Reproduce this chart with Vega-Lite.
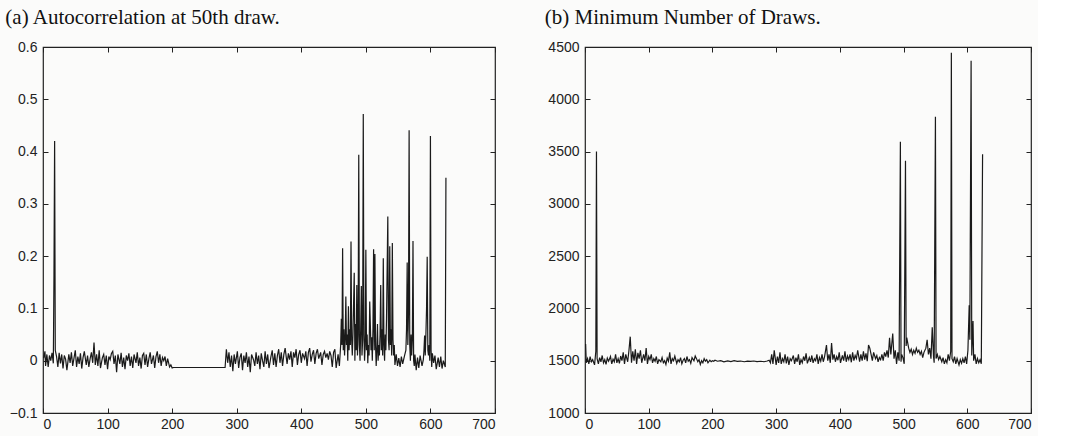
{
"$schema": "https://vega.github.io/schema/vega-lite/v6.json",
"background": "#fbfbfa",
"padding": {"left": 4, "top": 6, "right": 5, "bottom": 4},
"spacing": 47,
"config": {
  "view": {"stroke": "#222", "strokeWidth": 1.2},
  "axis": {"labelFont": "Liberation Sans", "labelFontSize": 14, "labelColor": "#222", "domain": false, "grid": false, "tickColor": "#222", "tickSize": -5, "tickWidth": 1, "labelPadding": 11},
  "axisX": {"labelPadding": 9},
  "title": {"font": "Liberation Serif", "fontSize": 21, "fontWeight": "normal", "anchor": "start", "color": "#111", "offset": 12}
},
"datasets": {
"a": [
{"x":1,"y":0.005},{"x":3,"y":0.018},{"x":4,"y":-0.01},{"x":6,"y":0.012},{"x":8,"y":-0.012},{"x":10,"y":0.01},{"x":12,"y":0.0},{"x":14,"y":0.015},{"x":16,"y":-0.005},{"x":17,"y":0.165},{"x":18,"y":0.42},{"x":19,"y":0.02},
{"x":21,"y":0.008},{"x":23,"y":-0.012},{"x":25,"y":0.015},{"x":27,"y":-0.005},{"x":29,"y":0.012},{"x":31,"y":-0.015},{"x":33,"y":0.01},{"x":35,"y":0.003},{"x":37,"y":-0.018},{"x":40,"y":0.012},{"x":42,"y":-0.004},{"x":44,"y":0.016},{"x":46,"y":-0.01},{"x":48,"y":0.005},{"x":50,"y":0.02},{"x":52,"y":-0.012},{"x":54,"y":0.008},{"x":56,"y":-0.006},{"x":58,"y":0.014},{"x":60,"y":-0.015},{"x":62,"y":0.006},{"x":64,"y":0.018},{"x":67,"y":-0.008},{"x":69,"y":0.01},{"x":71,"y":-0.012},{"x":73,"y":0.004},{"x":75,"y":0.016},{"x":77,"y":-0.004},{"x":79,"y":0.035},{"x":81,"y":-0.008},{"x":83,"y":0.012},{"x":85,"y":-0.01},{"x":87,"y":0.02},{"x":89,"y":-0.014},{"x":92,"y":0.006},{"x":94,"y":0.012},{"x":96,"y":-0.008},{"x":98,"y":0.01},{"x":100,"y":-0.016},{"x":102,"y":0.008},{"x":104,"y":0.002},{"x":106,"y":0.014},{"x":108,"y":0.018},{"x":110,"y":-0.006},{"x":112,"y":0.01},{"x":114,"y":-0.022},{"x":116,"y":0.012},{"x":119,"y":-0.006},{"x":121,"y":0.015},{"x":123,"y":-0.012},{"x":125,"y":0.006},{"x":127,"y":-0.016},{"x":129,"y":0.01},{"x":131,"y":0.0},{"x":133,"y":0.014},{"x":135,"y":-0.01},{"x":137,"y":0.008},{"x":139,"y":-0.014},{"x":141,"y":0.012},{"x":144,"y":-0.004},{"x":146,"y":0.016},{"x":148,"y":-0.01},{"x":150,"y":0.006},{"x":152,"y":-0.015},{"x":154,"y":0.01},{"x":156,"y":0.014},{"x":158,"y":-0.008},{"x":160,"y":0.012},{"x":162,"y":-0.012},{"x":164,"y":0.004},{"x":166,"y":0.016},{"x":168,"y":-0.006},{"x":171,"y":0.01},{"x":173,"y":-0.014},{"x":175,"y":0.008},{"x":177,"y":0.018},{"x":179,"y":-0.004},{"x":181,"y":0.012},{"x":183,"y":-0.01},{"x":185,"y":0.006},{"x":187,"y":0.0},{"x":189,"y":0.008},{"x":191,"y":-0.01},{"x":193,"y":0.004},{"x":196,"y":-0.012},{"x":198,"y":-0.008},{"x":200,"y":-0.014},{"x":202,"y":-0.013},
{"x":229,"y":-0.013},{"x":260,"y":-0.013},{"x":282,"y":-0.013},
{"x":284,"y":0.022},{"x":286,"y":-0.004},{"x":288,"y":0.016},{"x":290,"y":-0.012},{"x":292,"y":0.01},{"x":294,"y":-0.02},{"x":296,"y":0.012},{"x":298,"y":-0.006},{"x":301,"y":0.018},{"x":303,"y":-0.014},{"x":305,"y":0.006},{"x":307,"y":0.014},{"x":309,"y":-0.018},{"x":311,"y":0.01},{"x":313,"y":-0.004},{"x":315,"y":0.016},{"x":317,"y":-0.012},{"x":319,"y":0.008},{"x":321,"y":-0.022},{"x":323,"y":0.012},{"x":326,"y":0.002},{"x":328,"y":-0.01},{"x":330,"y":0.016},{"x":332,"y":-0.006},{"x":334,"y":0.01},{"x":336,"y":-0.016},{"x":338,"y":0.014},{"x":340,"y":0.0},{"x":342,"y":-0.012},{"x":344,"y":0.018},{"x":346,"y":-0.006},{"x":348,"y":0.012},{"x":350,"y":-0.014},{"x":353,"y":0.008},{"x":355,"y":0.02},{"x":357,"y":-0.008},{"x":359,"y":0.014},{"x":361,"y":-0.012},{"x":363,"y":0.01},{"x":365,"y":0.022},{"x":367,"y":-0.004},{"x":369,"y":0.016},{"x":371,"y":-0.01},{"x":373,"y":0.012},{"x":375,"y":0.024},{"x":378,"y":-0.006},{"x":380,"y":0.014},{"x":382,"y":0.002},{"x":384,"y":0.018},{"x":386,"y":-0.012},{"x":388,"y":0.016},{"x":390,"y":0.006},{"x":392,"y":0.022},{"x":394,"y":-0.008},{"x":396,"y":0.012},{"x":398,"y":0.02},{"x":400,"y":-0.004},{"x":402,"y":0.014},{"x":405,"y":0.004},{"x":407,"y":0.018},{"x":409,"y":-0.01},{"x":411,"y":0.016},{"x":413,"y":0.024},{"x":415,"y":-0.002},{"x":417,"y":0.012},{"x":419,"y":0.02},{"x":421,"y":-0.006},{"x":423,"y":0.014},{"x":425,"y":0.022},{"x":427,"y":0.004},{"x":430,"y":0.016},{"x":432,"y":-0.008},{"x":434,"y":0.012},{"x":436,"y":0.018},{"x":438,"y":0.006},{"x":440,"y":0.014},{"x":442,"y":0.002},{"x":444,"y":0.018},{"x":446,"y":0.01},{"x":448,"y":-0.012},{"x":450,"y":0.016},{"x":452,"y":0.022},{"x":454,"y":-0.014},{"x":457,"y":0.012},{"x":459,"y":-0.01},
{"x":461,"y":0.03},{"x":462,"y":0.08},{"x":463,"y":0.03},{"x":464,"y":0.215},{"x":465,"y":0.02},{"x":466,"y":0.06},{"x":467,"y":0.01},{"x":468,"y":0.04},{"x":469,"y":0.123},{"x":470,"y":0.03},{"x":471,"y":0.05},{"x":472,"y":0.0},{"x":473,"y":0.104},{"x":474,"y":0.02},{"x":475,"y":0.06},{"x":476,"y":0.03},{"x":477,"y":0.228},{"x":478,"y":0.04},{"x":479,"y":0.01},{"x":480,"y":0.05},{"x":482,"y":0.168},{"x":483,"y":0.0},{"x":484,"y":0.07},{"x":485,"y":0.02},{"x":486,"y":0.145},{"x":487,"y":0.01},{"x":488,"y":0.05},{"x":489,"y":0.394},{"x":490,"y":0.03},{"x":491,"y":0.0},{"x":492,"y":0.06},{"x":493,"y":0.143},{"x":494,"y":0.01},{"x":495,"y":0.04},{"x":496,"y":0.472},{"x":497,"y":0.05},{"x":498,"y":0.0},{"x":499,"y":0.03},{"x":500,"y":0.212},{"x":501,"y":0.02},{"x":502,"y":0.05},{"x":503,"y":-0.005},{"x":504,"y":0.03},{"x":505,"y":0.01},{"x":506,"y":0.113},{"x":508,"y":0.02},{"x":509,"y":0.045},{"x":510,"y":0.0},{"x":511,"y":0.06},{"x":512,"y":0.213},{"x":513,"y":0.02},{"x":514,"y":0.204},{"x":515,"y":0.03},{"x":516,"y":-0.01},{"x":517,"y":0.02},{"x":518,"y":0.07},{"x":519,"y":0.0},{"x":520,"y":0.03},{"x":521,"y":0.01},{"x":522,"y":0.05},{"x":523,"y":0.145},{"x":524,"y":0.02},{"x":525,"y":0.06},{"x":526,"y":0.01},{"x":527,"y":0.196},{"x":528,"y":0.03},{"x":529,"y":0.0},{"x":530,"y":0.05},{"x":531,"y":0.02},{"x":532,"y":0.08},{"x":534,"y":0.276},{"x":535,"y":0.04},{"x":536,"y":0.02},{"x":537,"y":0.219},{"x":538,"y":0.03},{"x":539,"y":0.06},{"x":540,"y":0.01},{"x":541,"y":0.225},{"x":542,"y":0.04},{"x":543,"y":0.01},{"x":544,"y":0.03},{"x":545,"y":-0.008},{"x":547,"y":0.012},{"x":549,"y":-0.01},{"x":551,"y":0.005},{"x":553,"y":-0.012},{"x":555,"y":0.008},{"x":557,"y":-0.006},{"x":560,"y":0.01},{"x":562,"y":0.02},{"x":563,"y":0.06},{"x":564,"y":0.188},{"x":565,"y":0.03},{"x":566,"y":0.09},{"x":567,"y":0.441},{"x":568,"y":0.03},{"x":569,"y":0.0},{"x":570,"y":0.05},{"x":571,"y":0.01},{"x":572,"y":0.04},{"x":573,"y":0.229},{"x":574,"y":0.0},{"x":575,"y":-0.01},{"x":576,"y":0.012},{"x":578,"y":-0.018},{"x":580,"y":0.006},{"x":582,"y":-0.014},{"x":584,"y":0.01},{"x":587,"y":-0.01},{"x":589,"y":0.002},{"x":590,"y":0.02},{"x":591,"y":0.048},{"x":592,"y":0.01},{"x":593,"y":0.05},{"x":594,"y":0.1},{"x":595,"y":0.199},{"x":596,"y":0.02},{"x":597,"y":0.01},{"x":598,"y":0.03},{"x":599,"y":0.0},{"x":600,"y":0.43},{"x":601,"y":0.02},{"x":602,"y":-0.012},{"x":603,"y":0.014},{"x":605,"y":-0.004},{"x":607,"y":0.01},{"x":609,"y":-0.016},{"x":612,"y":0.006},{"x":614,"y":-0.012},{"x":616,"y":0.008},{"x":618,"y":-0.015},{"x":620,"y":0.0},{"x":623,"y":-0.012},{"x":624,"y":0.35}
],
"b": [
{"x":1,"y":1660},{"x":2,"y":1480},{"x":4,"y":1520},{"x":6,"y":1470},{"x":8,"y":1540},{"x":10,"y":1490},{"x":12,"y":1510},{"x":15,"y":1460},{"x":17,"y":1590},{"x":18,"y":3500},{"x":19,"y":1520},
{"x":21,"y":1470},{"x":23,"y":1530},{"x":25,"y":1490},{"x":27,"y":1550},{"x":29,"y":1480},{"x":31,"y":1510},{"x":33,"y":1465},{"x":35,"y":1525},{"x":37,"y":1495},{"x":40,"y":1540},{"x":42,"y":1470},{"x":44,"y":1515},{"x":46,"y":1490},{"x":48,"y":1560},{"x":50,"y":1480},{"x":52,"y":1520},{"x":54,"y":1475},{"x":56,"y":1545},{"x":58,"y":1500},{"x":60,"y":1580},{"x":62,"y":1470},{"x":64,"y":1560},{"x":67,"y":1490},{"x":69,"y":1600},{"x":71,"y":1730},{"x":73,"y":1480},{"x":75,"y":1590},{"x":77,"y":1500},{"x":79,"y":1610},{"x":81,"y":1470},{"x":83,"y":1575},{"x":85,"y":1520},{"x":87,"y":1600},{"x":89,"y":1480},{"x":92,"y":1560},{"x":94,"y":1500},{"x":96,"y":1620},{"x":98,"y":1470},{"x":100,"y":1540},{"x":102,"y":1510},{"x":104,"y":1560},{"x":106,"y":1480},{"x":108,"y":1520},{"x":110,"y":1495},{"x":112,"y":1540},{"x":114,"y":1470},{"x":116,"y":1510},{"x":119,"y":1490},{"x":121,"y":1530},{"x":123,"y":1480},{"x":125,"y":1500},{"x":127,"y":1465},{"x":129,"y":1525},{"x":131,"y":1495},{"x":133,"y":1580},{"x":135,"y":1470},{"x":137,"y":1520},{"x":139,"y":1500},{"x":141,"y":1545},{"x":144,"y":1475},{"x":146,"y":1510},{"x":148,"y":1490},{"x":150,"y":1530},{"x":152,"y":1470},{"x":154,"y":1505},{"x":156,"y":1520},{"x":158,"y":1480},{"x":160,"y":1540},{"x":162,"y":1495},{"x":164,"y":1510},{"x":166,"y":1475},{"x":168,"y":1530},{"x":171,"y":1500},{"x":173,"y":1545},{"x":175,"y":1520},{"x":177,"y":1490},{"x":179,"y":1510},{"x":181,"y":1465},{"x":183,"y":1500},{"x":185,"y":1480},{"x":187,"y":1520},{"x":189,"y":1495},{"x":191,"y":1510},{"x":193,"y":1480},{"x":196,"y":1505},{"x":198,"y":1490},{"x":200,"y":1500},{"x":202,"y":1495},{"x":204,"y":1505},
{"x":208,"y":1495},{"x":213,"y":1500},{"x":218,"y":1490},{"x":224,"y":1498},{"x":229,"y":1492},{"x":234,"y":1500},{"x":239,"y":1494},{"x":244,"y":1497},{"x":250,"y":1490},{"x":255,"y":1496},{"x":260,"y":1493},{"x":265,"y":1497},{"x":270,"y":1492},{"x":276,"y":1495},{"x":281,"y":1490},{"x":286,"y":1497},{"x":289,"y":1505},
{"x":291,"y":1480},{"x":293,"y":1560},{"x":295,"y":1470},{"x":297,"y":1600},{"x":300,"y":1460},{"x":302,"y":1540},{"x":304,"y":1480},{"x":306,"y":1580},{"x":308,"y":1470},{"x":310,"y":1520},{"x":312,"y":1490},{"x":314,"y":1560},{"x":316,"y":1475},{"x":318,"y":1540},{"x":320,"y":1460},{"x":322,"y":1520},{"x":324,"y":1500},{"x":327,"y":1550},{"x":329,"y":1470},{"x":331,"y":1530},{"x":333,"y":1490},{"x":335,"y":1560},{"x":337,"y":1460},{"x":339,"y":1510},{"x":341,"y":1480},{"x":343,"y":1540},{"x":345,"y":1500},{"x":347,"y":1570},{"x":349,"y":1475},{"x":352,"y":1530},{"x":354,"y":1490},{"x":356,"y":1550},{"x":358,"y":1480},{"x":360,"y":1520},{"x":362,"y":1500},{"x":364,"y":1560},{"x":366,"y":1470},{"x":368,"y":1530},{"x":370,"y":1495},{"x":372,"y":1560},{"x":374,"y":1490},{"x":376,"y":1540},{"x":379,"y":1650},{"x":381,"y":1500},{"x":383,"y":1560},{"x":385,"y":1480},{"x":387,"y":1670},{"x":389,"y":1510},{"x":391,"y":1560},{"x":393,"y":1490},{"x":395,"y":1540},{"x":397,"y":1505},{"x":399,"y":1580},{"x":401,"y":1480},{"x":404,"y":1550},{"x":406,"y":1500},{"x":408,"y":1590},{"x":410,"y":1490},{"x":412,"y":1545},{"x":414,"y":1510},{"x":416,"y":1560},{"x":418,"y":1485},{"x":420,"y":1580},{"x":422,"y":1500},{"x":424,"y":1550},{"x":426,"y":1520},{"x":428,"y":1600},{"x":431,"y":1490},{"x":433,"y":1560},{"x":435,"y":1500},{"x":437,"y":1590},{"x":439,"y":1510},{"x":441,"y":1570},{"x":443,"y":1495},{"x":445,"y":1650},{"x":447,"y":1620},{"x":449,"y":1560},{"x":451,"y":1500},{"x":453,"y":1580},{"x":456,"y":1520},{"x":458,"y":1550},{"x":460,"y":1490},{"x":462,"y":1530},{"x":464,"y":1510},{"x":466,"y":1560},{"x":468,"y":1500},{"x":470,"y":1580},{"x":472,"y":1540},{"x":474,"y":1600},{"x":476,"y":1530},{"x":478,"y":1720},{"x":480,"y":1560},{"x":483,"y":1760},{"x":485,"y":1520},{"x":487,"y":1600},{"x":489,"y":1470},{"x":491,"y":1580},{"x":493,"y":1500},{"x":495,"y":3594},{"x":496,"y":1490},{"x":497,"y":1560},{"x":499,"y":1530},{"x":501,"y":1470},{"x":503,"y":3413},{"x":504,"y":1640},{"x":505,"y":1720},{"x":508,"y":1620},{"x":510,"y":1580},{"x":512,"y":1610},{"x":514,"y":1560},{"x":516,"y":1600},{"x":518,"y":1570},{"x":520,"y":1620},{"x":522,"y":1580},{"x":524,"y":1600},{"x":526,"y":1560},{"x":528,"y":1590},{"x":530,"y":1530},{"x":532,"y":1580},{"x":535,"y":1620},{"x":537,"y":1700},{"x":539,"y":1560},{"x":541,"y":1620},{"x":543,"y":1520},{"x":545,"y":1820},{"x":547,"y":1540},{"x":548,"y":1480},{"x":550,"y":3834},{"x":551,"y":1520},{"x":553,"y":1560},{"x":555,"y":1510},{"x":557,"y":1540},{"x":560,"y":1490},{"x":562,"y":1530},{"x":564,"y":1470},{"x":566,"y":1510},{"x":568,"y":1480},{"x":570,"y":1560},{"x":572,"y":1500},{"x":574,"y":1590},{"x":575,"y":4446},{"x":576,"y":1520},{"x":578,"y":1490},{"x":580,"y":1540},{"x":582,"y":1470},{"x":584,"y":1520},{"x":587,"y":1460},{"x":589,"y":1510},{"x":591,"y":1475},{"x":593,"y":1520},{"x":595,"y":1480},{"x":597,"y":1540},{"x":599,"y":1470},{"x":601,"y":1600},{"x":603,"y":2030},{"x":604,"y":1700},{"x":606,"y":4369},{"x":607,"y":1550},{"x":609,"y":1880},{"x":610,"y":1500},{"x":612,"y":1560},{"x":614,"y":1470},{"x":616,"y":1520},{"x":618,"y":1480},{"x":620,"y":1510},{"x":622,"y":1470},{"x":624,"y":3474}
]
},
"hconcat": [
{
  "title": {"text": "(a) Autocorrelation at 50th draw.", "frame": "bounds", "dx": -4},
  "width": 452, "height": 366,
  "data": {"name": "a"},
  "layer": [
    {"mark": {"type": "line", "color": "#1a1a1a", "strokeWidth": 1.2},
     "encoding": {
       "x": {"field": "x", "type": "quantitative", "scale": {"domain": [0, 700], "nice": false, "zero": false}, "axis": {"values": [0,100,200,300,400,500,600,700], "title": null}},
       "y": {"field": "y", "type": "quantitative", "scale": {"domain": [-0.1, 0.6], "nice": false, "zero": false}, "axis": {"values": [-0.1,0,0.1,0.2,0.3,0.4,0.5,0.6], "format": ".1~f", "title": null}}
     }},
    {"mark": {"type": "line", "opacity": 0},
     "encoding": {
       "x": {"field": "x", "type": "quantitative", "axis": {"orient": "top", "labels": false, "values": [0,100,200,300,400,500,600,700], "title": null}},
       "y": {"field": "y", "type": "quantitative", "axis": {"orient": "right", "labels": false, "values": [-0.1,0,0.1,0.2,0.3,0.4,0.5,0.6], "title": null}}
     }}
  ],
  "resolve": {"axis": {"x": "independent", "y": "independent"}}
},
{
  "title": {"text": "(b) Minimum Number of Draws.", "frame": "bounds", "dx": -3},
  "width": 446, "height": 366,
  "data": {"name": "b"},
  "layer": [
    {"mark": {"type": "line", "color": "#1a1a1a", "strokeWidth": 1.2},
     "encoding": {
       "x": {"field": "x", "type": "quantitative", "scale": {"domain": [0, 700], "nice": false, "zero": false}, "axis": {"values": [0,100,200,300,400,500,600,700], "title": null}},
       "y": {"field": "y", "type": "quantitative", "scale": {"domain": [1000, 4500], "nice": false, "zero": false}, "axis": {"values": [1000,1500,2000,2500,3000,3500,4000,4500], "format": "d", "title": null}}
     }},
    {"mark": {"type": "line", "opacity": 0},
     "encoding": {
       "x": {"field": "x", "type": "quantitative", "axis": {"orient": "top", "labels": false, "values": [0,100,200,300,400,500,600,700], "title": null}},
       "y": {"field": "y", "type": "quantitative", "axis": {"orient": "right", "labels": false, "values": [1000,1500,2000,2500,3000,3500,4000,4500], "title": null}}
     }}
  ],
  "resolve": {"axis": {"x": "independent", "y": "independent"}}
}
]
}
